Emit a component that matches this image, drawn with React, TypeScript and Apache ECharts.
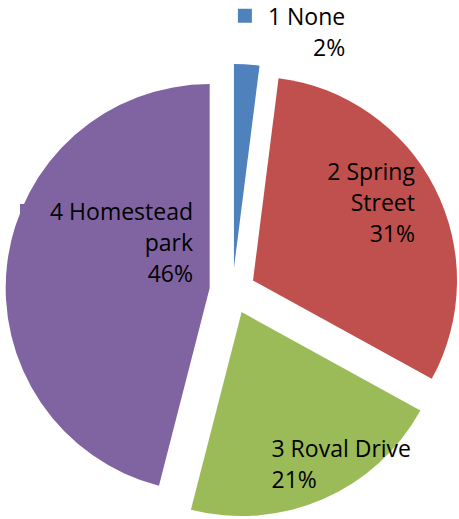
import React, { useEffect, useRef } from "react";
import * as echarts from "echarts";

// ---- data ----
const CATEGORIES = ["1 None", "2 Spring\nStreet", "3 Roval Drive", "4 Homestead\npark"];
const VALUES = [2, 31, 21, 46];

// ---- styles / layout ----
const COLORS = ["#4F81BD", "#C0504D", "#9BBB59", "#8064A2"];
const LABEL_ALIGN = ["right", "right", "left", "right"];
const SHOW_KEY = [true, false, false, true];
// label shift from the library's default "inside" position
const LABEL_SHIFT: [number, number][] = [
  [51, -132],
  [24.6, -30.5],
  [57.9, 54.7],
  [1, -33],
];
const FONT = "'Open Sans', Lato, sans-serif";
const FONT_SIZE = 23;
const LINE_H = 31;

export default function App() {
  const ref = useRef<HTMLDivElement>(null);
  useEffect(() => {
    if (!ref.current) return;
    const chart = echarts.init(ref.current, undefined, { renderer: "svg" });
    const textBase = { fontFamily: FONT, fontSize: FONT_SIZE, lineHeight: LINE_H, color: "#000" };
    const rich: any = {
      r: { ...textBase, align: "right" },
      l: { ...textBase, align: "left" },
      g: { ...textBase, width: 16, align: "right" },
    };
    COLORS.forEach((c, i) => {
      rich["k" + i] = { width: 14, height: 14, backgroundColor: c, align: "right", fontSize: 1 };
    });
    chart.setOption({
      animation: false,
      backgroundColor: "#fff",
      series: [
        {
          type: "pie",
          center: [232.5, 291],
          radius: 204,
          startAngle: 90,
          clockwise: true,
          selectedMode: "multiple",
          selectedOffset: 23,
          avoidLabelOverlap: false,
          emphasis: { disabled: true },
          labelLine: { show: false },
          label: {
            show: true,
            position: "inside",
            fontFamily: FONT,
            fontSize: FONT_SIZE,
            lineHeight: LINE_H,
            color: "#000",
            formatter: (p: any) => {
              const idx = p.dataIndex;
              const cls = LABEL_ALIGN[idx] === "left" ? "l" : "r";
              const lines = [...String(p.name).split("\n"), `${Math.round(p.percent)}%`];
              return lines
                .map((ln, i) => (i === 0 && SHOW_KEY[idx] ? `{k${idx}| }{g| }` : "") + `{${cls}|${ln}}`)
                .join("\n");
            },
            rich,
          },
          labelLayout: (params: any) => {
            const s = LABEL_SHIFT[params.dataIndex];
            return { dx: s[0], dy: s[1] };
          },
          data: CATEGORIES.map((name, i) => ({
            name,
            value: VALUES[i],
            selected: true,
            itemStyle: { color: COLORS[i] },
          })),
        },
      ],
    });
    return () => chart.dispose();
  }, []);
  return (
    <div
      ref={ref}
      style={{ position: "absolute", left: 0, top: 0, width: 459, height: 519 }}
    />
  );
}
